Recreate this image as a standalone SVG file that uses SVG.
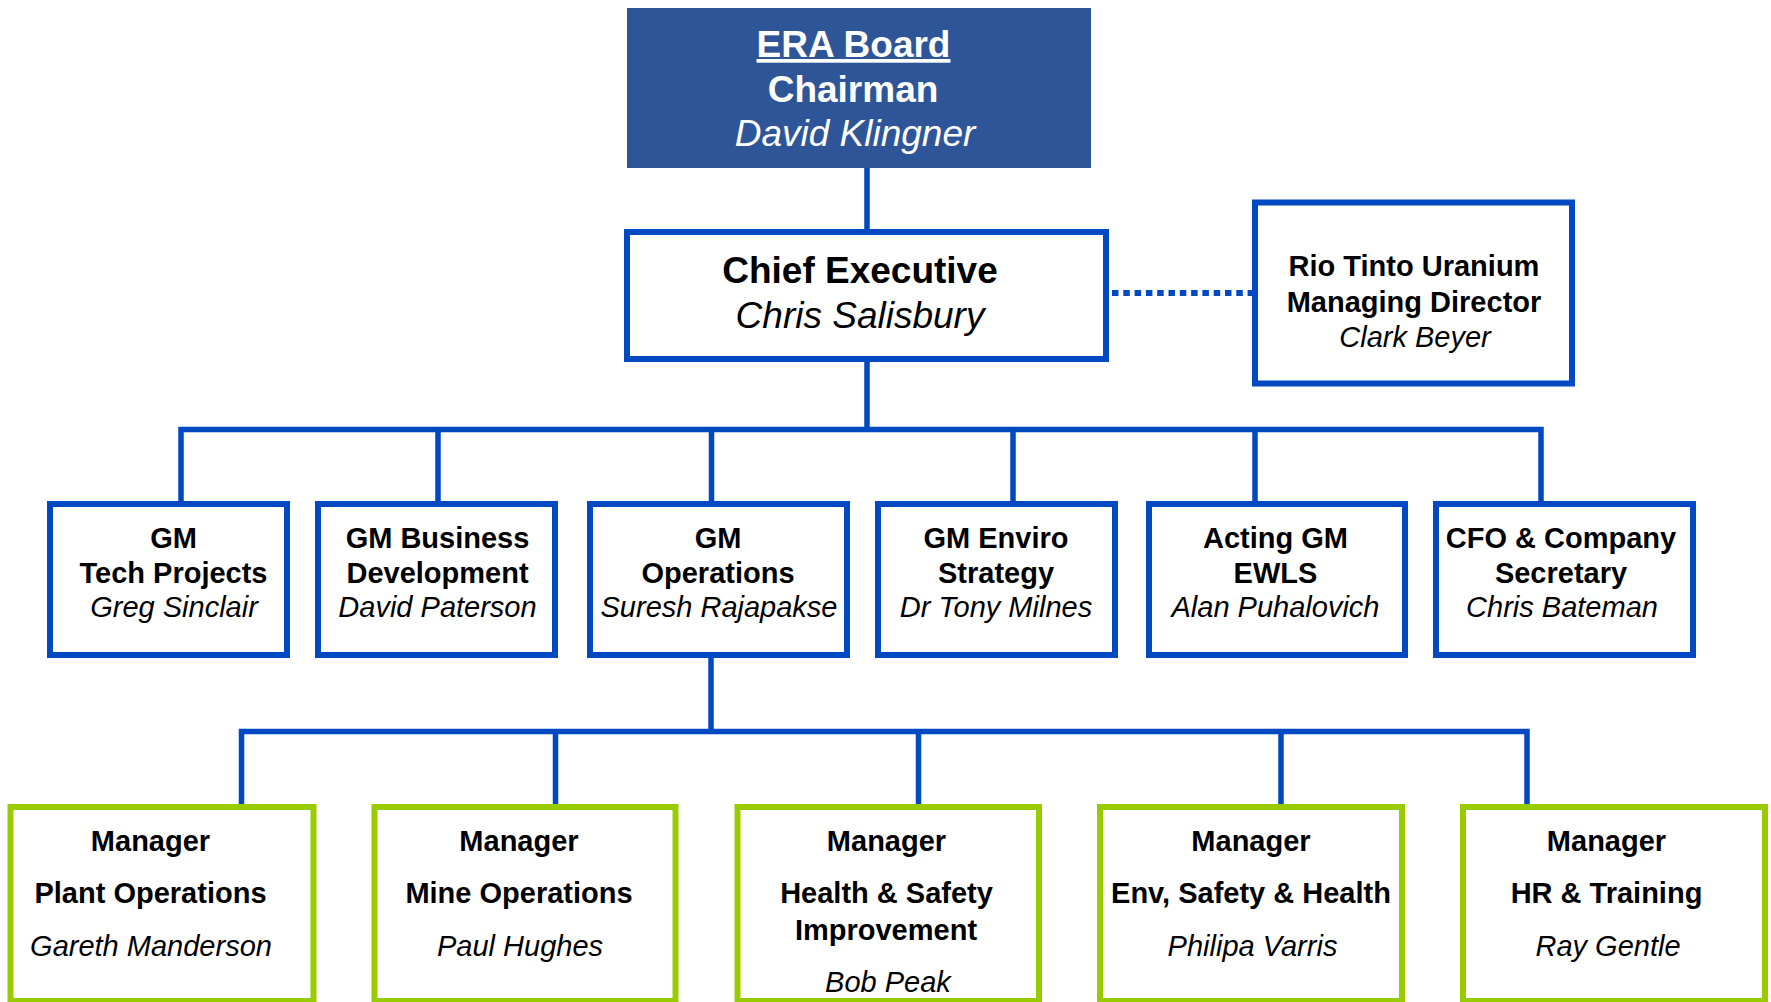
<svg xmlns="http://www.w3.org/2000/svg" width="1771" height="1002" viewBox="0 0 1771 1002">
<style>
  text { font-family: "Liberation Sans", Arial, sans-serif; text-anchor: middle; fill: #000; }
  .big { font-size: 37px; }
  .med { font-size: 29px; }
  .b { font-weight: bold; }
  .i { font-style: italic; }
  .w { fill: #fff; }
  .blue { fill: #fff; stroke: #0049C2; stroke-width: 6; }
  .green { fill: #fff; stroke: #99CC00; stroke-width: 6; }
  .conn { fill: none; stroke: #0049C2; stroke-width: 5.5; stroke-linejoin: miter; stroke-linecap: butt; }
  .dot { fill: none; stroke: #0049C2; stroke-width: 6; stroke-dasharray: 6.5 4.8; }
</style>
<rect width="1771" height="1002" fill="#fff"/>
<g id="connectors">
  <path class="conn" d="M867,167 V232"/>
  <path class="conn" d="M867,359 V432"/>
  <path class="conn" d="M181,503 V429.5 H1541 V503"/>
  <path class="conn" d="M438,429.5 V503 M711.5,429.5 V503 M1013,429.5 V503 M1255,429.5 V503"/>
  <path class="conn" d="M711,656 V734"/>
  <path class="conn" d="M241.5,806 V731.5 H1527 V806"/>
  <path class="conn" d="M555.5,731.5 V806 M918.5,731.5 V806 M1281,731.5 V806"/>
  <path class="dot" d="M1112,293 H1253"/>
</g>
<g id="era-board">
  <rect x="627" y="8" width="464" height="160" fill="#2E5597"/>
  <text class="big b w" x="853.5" y="57" text-decoration="underline">ERA Board</text>
  <text class="big b w" x="853" y="102">Chairman</text>
  <text class="big i w" x="855" y="146">David Klingner</text>
</g>
<g id="chief-executive">
  <rect class="blue" x="627" y="232" width="479" height="127"/>
  <text class="big b" x="860" y="283">Chief Executive</text>
  <text class="big i" x="860" y="328">Chris Salisbury</text>
</g>
<g id="rio-tinto">
  <rect class="blue" x="1255" y="202.5" width="317" height="181"/>
  <text class="med b" x="1414" y="276">Rio Tinto Uranium</text>
  <text class="med b" x="1414" y="311.5">Managing Director</text>
  <text class="med i" x="1415" y="346.5">Clark Beyer</text>
</g>
<g id="gm-tech">
  <rect class="blue" x="50" y="504" width="237" height="151"/>
  <text class="med b" x="173.5" y="548">GM</text>
  <text class="med b" x="173.5" y="583">Tech Projects</text>
  <text class="med i" x="174" y="617">Greg Sinclair</text>
</g>
<g id="gm-bizdev">
  <rect class="blue" x="318" y="504" width="237" height="151"/>
  <text class="med b" x="437.5" y="548">GM Business</text>
  <text class="med b" x="437.5" y="583">Development</text>
  <text class="med i" x="437.5" y="617">David Paterson</text>
</g>
<g id="gm-operations">
  <rect class="blue" x="590" y="504" width="257" height="151"/>
  <text class="med b" x="718" y="548">GM</text>
  <text class="med b" x="718" y="583">Operations</text>
  <text class="med i" x="719" y="617">Suresh Rajapakse</text>
</g>
<g id="gm-enviro">
  <rect class="blue" x="878" y="504" width="237" height="151"/>
  <text class="med b" x="996" y="548">GM Enviro</text>
  <text class="med b" x="996" y="583">Strategy</text>
  <text class="med i" x="996" y="617">Dr Tony Milnes</text>
</g>
<g id="gm-ewls">
  <rect class="blue" x="1149" y="504" width="256" height="151"/>
  <text class="med b" x="1275.5" y="548">Acting GM</text>
  <text class="med b" x="1275.5" y="583">EWLS</text>
  <text class="med i" x="1275.5" y="617">Alan Puhalovich</text>
</g>
<g id="cfo">
  <rect class="blue" x="1436" y="504" width="257" height="151"/>
  <text class="med b" x="1561" y="548">CFO &amp; Company</text>
  <text class="med b" x="1561" y="583">Secretary</text>
  <text class="med i" x="1562" y="617">Chris Bateman</text>
</g>
<g id="mgr-plant">
  <rect class="green" x="10.5" y="807" width="303" height="194"/>
  <text class="med b" x="150.5" y="851">Manager</text>
  <text class="med b" x="150.5" y="903">Plant Operations</text>
  <text class="med i" x="151" y="956">Gareth Manderson</text>
</g>
<g id="mgr-mine">
  <rect class="green" x="374.5" y="807" width="301" height="194"/>
  <text class="med b" x="519" y="851">Manager</text>
  <text class="med b" x="519" y="903">Mine Operations</text>
  <text class="med i" x="520" y="956">Paul Hughes</text>
</g>
<g id="mgr-hs">
  <rect class="green" x="737.5" y="807" width="301.5" height="194"/>
  <text class="med b" x="886.5" y="851">Manager</text>
  <text class="med b" x="886.5" y="903">Health &amp; Safety</text>
  <text class="med b" x="886" y="940">Improvement</text>
  <text class="med i" x="888" y="992">Bob Peak</text>
</g>
<g id="mgr-env">
  <rect class="green" x="1100" y="807" width="302" height="194"/>
  <text class="med b" x="1251" y="851">Manager</text>
  <text class="med b" x="1251" y="903">Env, Safety &amp; Health</text>
  <text class="med i" x="1252.5" y="956">Philipa Varris</text>
</g>
<g id="mgr-hr">
  <rect class="green" x="1463" y="807" width="302" height="194"/>
  <text class="med b" x="1606.5" y="851">Manager</text>
  <text class="med b" x="1606.5" y="903">HR &amp; Training</text>
  <text class="med i" x="1608" y="956">Ray Gentle</text>
</g>
</svg>
